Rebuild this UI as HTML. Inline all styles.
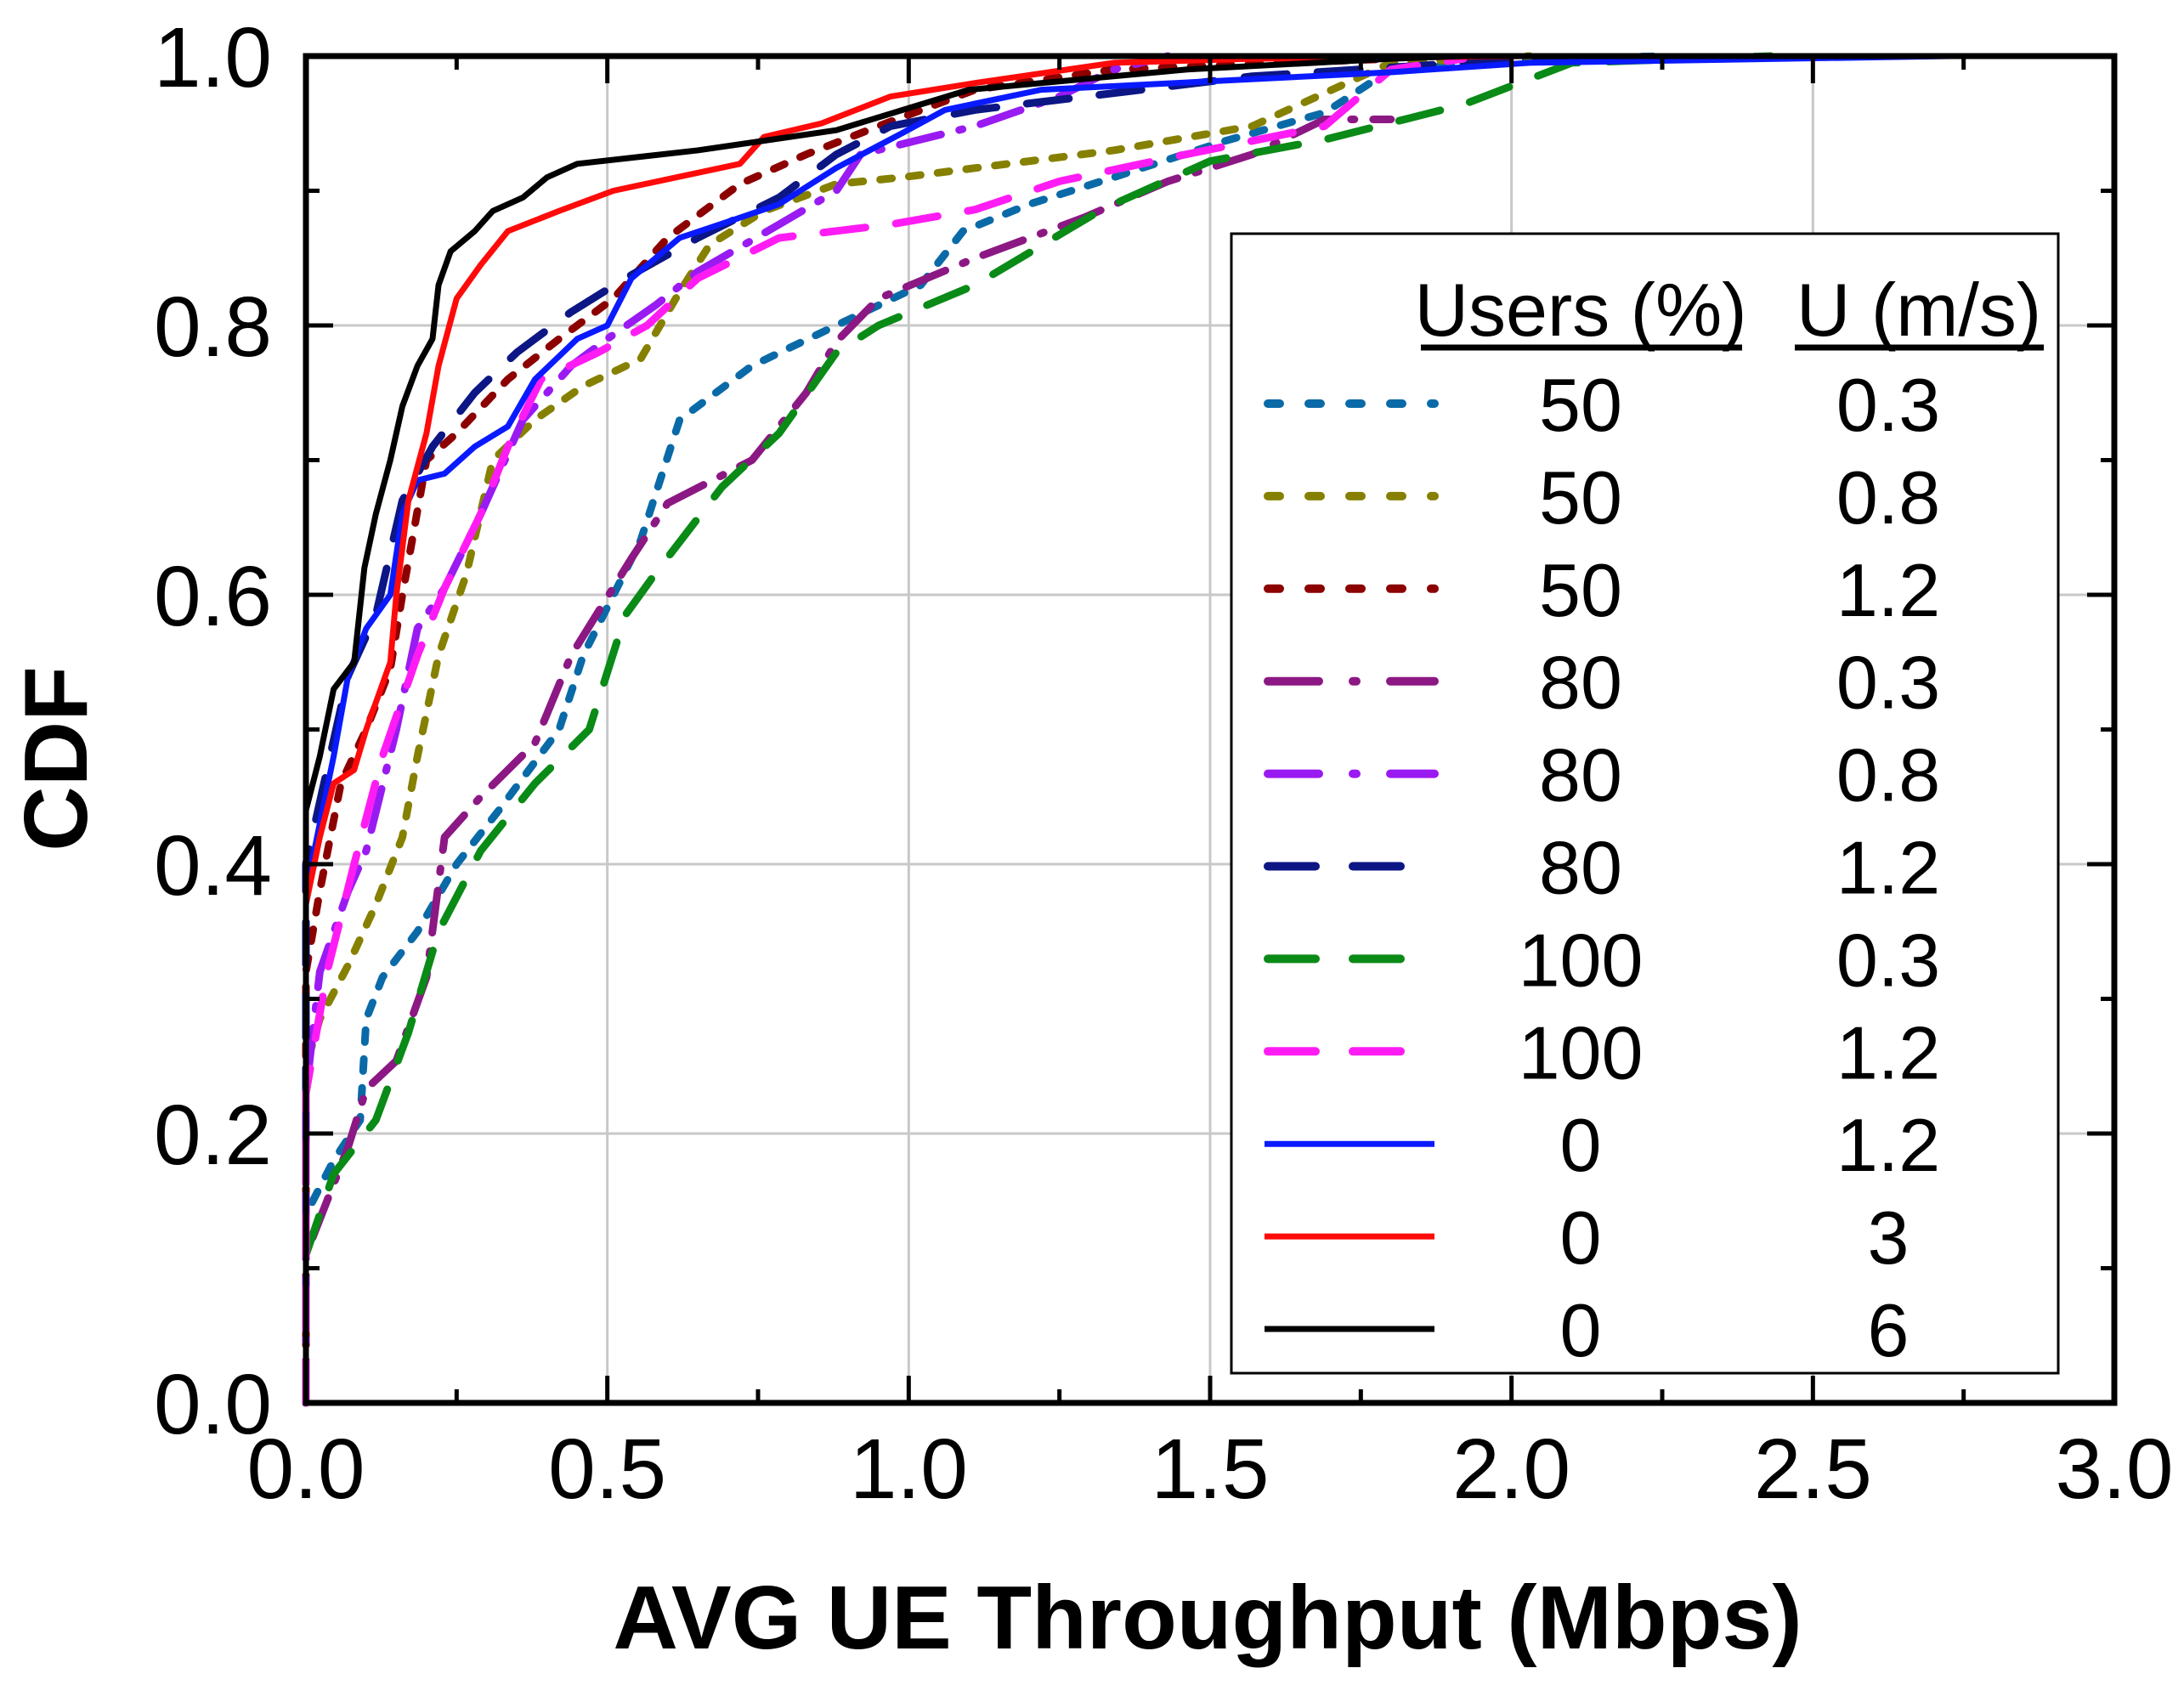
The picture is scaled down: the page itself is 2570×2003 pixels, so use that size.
<!DOCTYPE html>
<html><head><meta charset="utf-8"><style>
html,body{margin:0;padding:0;background:#fff;}
svg{display:block;font-family:"Liberation Sans",Arial,sans-serif;}
</style></head><body>
<svg id="chart" width="2570" height="2003" viewBox="0 0 2570 2003" xmlns="http://www.w3.org/2000/svg">
<g id="grid"></g>
<g id="series"></g>
<g id="axes"></g>
<g id="legend"></g>
<text x="1421" y="1940" font-size="106" font-weight="bold" text-anchor="middle">AVG UE Throughput (Mbps)</text>
<text transform="translate(102,893) rotate(-90)" font-size="106" font-weight="bold" text-anchor="middle">CDF</text>
</svg>
<script>
const xTicks=[0,0.5,1.0,1.5,2.0,2.5,3.0];
const xTickLabels=["0.0","0.5","1.0","1.5","2.0","2.5","3.0"];
const yTicks=[0,0.2,0.4,0.6,0.8,1.0];
const yTickLabels=["0.0","0.2","0.4","0.6","0.8","1.0"];
const seriesUsers=["50","50","50","80","80","80","100","100","0","0","0"];
const seriesSpeed=["0.3","0.8","1.2","0.3","0.8","1.2","0.3","1.2","1.2","3","6"];
const s50_03_x=[0,0,0.046,0.09,0.1,0.127,0.185,0.25,0.32,0.42,0.46,0.555,0.62,0.74,0.88,1.02,1.09,1.2,1.34,1.525,1.69,1.8,2.03,2.26];
const s50_03_y=[0,0.14,0.18,0.21,0.285,0.316,0.35,0.40,0.44,0.50,0.555,0.64,0.73,0.77,0.80,0.83,0.87,0.89,0.91,0.937,0.958,0.99,0.998,1];
const s50_08_x=[0,0,0.023,0.07,0.116,0.16,0.185,0.22,0.266,0.31,0.38,0.46,0.555,0.62,0.67,0.76,0.88,0.99,1.34,1.57,1.8,2.03];
const s50_08_y=[0,0.25,0.285,0.325,0.37,0.42,0.48,0.555,0.615,0.70,0.73,0.755,0.775,0.825,0.86,0.885,0.905,0.91,0.93,0.948,0.995,1];
const s50_12_x=[0,0,0.023,0.058,0.1,0.14,0.16,0.2,0.25,0.335,0.42,0.51,0.6,0.72,0.83,0.95,1.11,1.34,1.8];
const s50_12_y=[0,0.32,0.38,0.46,0.5,0.545,0.6,0.70,0.72,0.76,0.79,0.82,0.865,0.905,0.927,0.948,0.975,0.99,0.998];
const s80_03_x=[0,0,0.035,0.07,0.1,0.15,0.2,0.23,0.29,0.38,0.44,0.54,0.6,0.74,0.83,0.88,0.95,1.11,1.29,1.43,1.57,1.69,1.8];
const s80_03_y=[0,0.11,0.15,0.19,0.233,0.254,0.316,0.42,0.45,0.49,0.555,0.627,0.668,0.70,0.75,0.788,0.82,0.85,0.88,0.907,0.927,0.953,0.953];
const s80_08_x=[0,0,0.023,0.07,0.1,0.15,0.185,0.23,0.29,0.36,0.44,0.5,0.58,0.65,0.785,0.88,0.92,1.11,1.25,1.34,1.43];
const s80_08_y=[0,0.23,0.32,0.38,0.41,0.5,0.575,0.605,0.66,0.73,0.77,0.79,0.815,0.84,0.875,0.9,0.927,0.948,0.97,0.99,1];
const s80_12_x=[0,0,0.035,0.07,0.116,0.16,0.21,0.28,0.35,0.44,0.53,0.65,0.785,0.88,0.97,1.11,1.57,1.92,2.15];
const s80_12_y=[0,0.40,0.47,0.54,0.585,0.67,0.71,0.75,0.78,0.81,0.835,0.865,0.895,0.927,0.948,0.96,0.985,0.995,1];
const s100_03_x=[0,0,0.046,0.116,0.17,0.22,0.29,0.38,0.47,0.53,0.58,0.69,0.785,0.88,0.95,1.11,1.32,1.5,1.69,1.92,2.1,2.43];
const s100_03_y=[0,0.11,0.17,0.21,0.275,0.35,0.41,0.46,0.50,0.585,0.616,0.68,0.72,0.78,0.80,0.83,0.886,0.922,0.938,0.964,0.995,1];
const s100_12_x=[0,0,0.035,0.08,0.127,0.185,0.23,0.29,0.335,0.39,0.485,0.566,0.65,0.785,0.97,1.11,1.25,1.46,1.69,1.8,1.92];
const s100_12_y=[0,0.23,0.32,0.40,0.48,0.555,0.605,0.66,0.71,0.76,0.78,0.80,0.835,0.865,0.875,0.886,0.907,0.927,0.948,0.99,0.998];
const s0_12_x=[0,0,0.023,0.046,0.07,0.1,0.14,0.16,0.185,0.23,0.28,0.335,0.38,0.45,0.5,0.54,0.62,0.72,0.785,0.88,0.99,1.06,1.22,1.8,2.03,2.73];
const s0_12_y=[0,0.38,0.43,0.48,0.54,0.575,0.6,0.66,0.685,0.69,0.71,0.725,0.76,0.79,0.80,0.835,0.865,0.88,0.89,0.917,0.943,0.96,0.975,0.988,0.995,1];
const s0_3_x=[0,0,0.023,0.046,0.08,0.1,0.14,0.15,0.17,0.2,0.22,0.25,0.29,0.335,0.42,0.51,0.72,0.76,0.855,0.97,1.11,1.34,1.57,2.03];
const s0_3_y=[0,0.37,0.42,0.46,0.47,0.5,0.55,0.6,0.67,0.72,0.77,0.82,0.845,0.87,0.885,0.9,0.92,0.94,0.95,0.97,0.98,0.995,0.998,1];
const s0_6_x=[0,0,0.023,0.046,0.08,0.097,0.116,0.14,0.16,0.185,0.21,0.22,0.24,0.28,0.31,0.36,0.40,0.45,0.65,0.88,0.99,1.1,1.46,1.8,1.92];
const s0_6_y=[0,0.44,0.48,0.53,0.55,0.62,0.66,0.70,0.74,0.77,0.79,0.83,0.855,0.87,0.885,0.895,0.91,0.92,0.93,0.945,0.96,0.975,0.99,0.998,1];

const X0=360,X1=2488,Y0=1651,Y1=66;
const sx=v=>X0+(v-0)/(3-0)*(X1-X0);
const sy=v=>Y0-(v-0)/(1-0)*(Y0-Y1);
const NS="http://www.w3.org/2000/svg";
function mk(tag,parent){const e=document.createElementNS(NS,tag);parent.appendChild(e);return e;}

const styles=[
 {c:"#0a6aa8",d:"14 20",w:9,cap:"round",lw:10},
 {c:"#868000",d:"14 20",w:9,cap:"round",lw:10},
 {c:"#8c0000",d:"14 20",w:9,cap:"round",lw:10},
 {c:"#8c1884",d:"50 22 4 22",w:9,cap:"round",lw:10},
 {c:"#9a1af2",d:"50 22 4 22",w:9,cap:"round",lw:10},
 {c:"#0c1684",d:"50 36",w:9,cap:"round",lw:10},
 {c:"#0a8a16",d:"50 36",w:9,cap:"round",lw:10},
 {c:"#ff1cf4",d:"50 36",w:9,cap:"round",lw:10},
 {c:"#0a1aff",d:"none",w:7,cap:"butt",lw:7},
 {c:"#ff0a0a",d:"none",w:7,cap:"butt",lw:7},
 {c:"#000000",d:"none",w:7,cap:"butt",lw:7}
];
const seriesX=[s50_03_x,s50_08_x,s50_12_x,s80_03_x,s80_08_x,s80_12_x,s100_03_x,s100_12_x,s0_12_x,s0_3_x,s0_6_x];
const seriesY=[s50_03_y,s50_08_y,s50_12_y,s80_03_y,s80_08_y,s80_12_y,s100_03_y,s100_12_y,s0_12_y,s0_3_y,s0_6_y];

const grid=document.getElementById('grid');
xTicks.forEach((t,i)=>{if(i>0&&i<xTicks.length-1){const l=mk('line',grid);


l.setAttribute('x1',sx(t));l.setAttribute('x2',sx(t));l.setAttribute('y1',Y0);l.setAttribute('y2',Y1);l.setAttribute('stroke','#c8c8c8');l.setAttribute('stroke-width',3);}});
yTicks.forEach((t,i)=>{if(i>0&&i<yTicks.length-1){const l=mk('line',grid);


l.setAttribute('x1',X0);l.setAttribute('x2',X1);l.setAttribute('y1',sy(t));l.setAttribute('y2',sy(t));l.setAttribute('stroke','#c8c8c8');l.setAttribute('stroke-width',3);}});

const sg=document.getElementById('series');
seriesX.forEach((xs,i)=>{const p=mk('polyline',sg);


p.setAttribute('points',xs.map((x,j)=>sx(x)+','+sy(seriesY[i][j])).join(' '));
const s=styles[i];p.setAttribute('fill','none');p.setAttribute('stroke',s.c);p.setAttribute('stroke-width',s.w);
p.setAttribute('stroke-linecap',s.cap);p.setAttribute('stroke-linejoin','round');if(s.d!=="none")p.setAttribute('stroke-dasharray',s.d);});

const ax=document.getElementById('axes');
const fr=mk('rect',ax);


fr.setAttribute('x',X0);fr.setAttribute('y',Y1);fr.setAttribute('width',X1-X0);fr.setAttribute('height',Y0-Y1);fr.setAttribute('fill','none');fr.setAttribute('stroke','#000');fr.setAttribute('stroke-width',7);
function tick(x1,y1,x2,y2){const l=mk('line',ax);


l.setAttribute('x1',x1);l.setAttribute('y1',y1);l.setAttribute('x2',x2);l.setAttribute('y2',y2);l.setAttribute('stroke','#000');l.setAttribute('stroke-width',5);}
for(let k=0;k<=12;k++){const v=k*0.25,L=(k%2===0)?32:16,x=sx(v);tick(x,Y0,x,Y0-L);tick(x,Y1,x,Y1+L);}
for(let k=0;k<=10;k++){const v=k*0.1,L=(k%2===0)?32:16,y=sy(v);tick(X0,y,X0+L,y);tick(X1,y,X1-L,y);}
xTicks.forEach((t,i)=>{const tx=mk('text',ax);


tx.setAttribute('x',sx(t));tx.setAttribute('y',1763);tx.setAttribute('font-size',100);tx.setAttribute('text-anchor','middle');tx.textContent=xTickLabels[i];});
yTicks.forEach((t,i)=>{const tx=mk('text',ax);


tx.setAttribute('x',320);tx.setAttribute('y',sy(t)+36);tx.setAttribute('font-size',100);tx.setAttribute('text-anchor','end');tx.textContent=yTickLabels[i];});

const lg=document.getElementById('legend');
const box=mk('rect',lg);


box.setAttribute('x',1449);box.setAttribute('y',275);box.setAttribute('width',973);box.setAttribute('height',1341);box.setAttribute('fill','#fff');box.setAttribute('stroke','#000');box.setAttribute('stroke-width',3);
[["Users (%)",1860,1672,2050],["U (m/s)",2258,2112,2405]].forEach(h=>{const t=mk('text',lg);


t.setAttribute('x',h[1]);t.setAttribute('y',395);t.setAttribute('font-size',88);t.setAttribute('text-anchor','middle');t.textContent=h[0];
const u=mk('line',lg);


u.setAttribute('x1',h[2]);u.setAttribute('x2',h[3]);u.setAttribute('y1',409);u.setAttribute('y2',409);u.setAttribute('stroke','#000');u.setAttribute('stroke-width',7);});
seriesUsers.forEach((u,i)=>{const y=475+i*108.9,s=styles[i];
const l=mk('line',lg);


l.setAttribute('x1',s.cap==="round"?1492:1488);l.setAttribute('x2',1688);l.setAttribute('y1',y);l.setAttribute('y2',y);l.setAttribute('stroke',s.c);l.setAttribute('stroke-width',s.lw);l.setAttribute('stroke-linecap',s.cap);
if(s.d!=="none"){const dd=(i<3)?"14 34":(i<5?"60 40 4 40":"56 44");l.setAttribute('stroke-dasharray',dd);}
const t1=mk('text',lg);


t1.setAttribute('x',1860);t1.setAttribute('y',y+32);t1.setAttribute('font-size',88);t1.setAttribute('text-anchor','middle');t1.textContent=u;
const t2=mk('text',lg);


t2.setAttribute('x',2222);t2.setAttribute('y',y+32);t2.setAttribute('font-size',88);t2.setAttribute('text-anchor','middle');t2.textContent=seriesSpeed[i];});
</script>
</body></html>
